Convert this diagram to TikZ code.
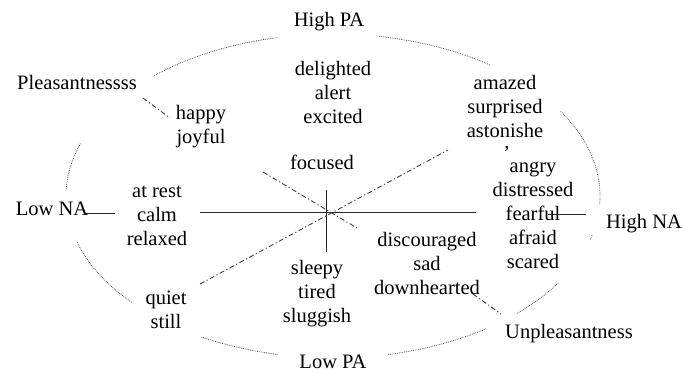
\documentclass[tikz,border=0pt]{standalone}
\usepackage{fontspec}
\setmainfont{Liberation Serif}
\usetikzlibrary{calc}

\begin{document}
\begin{tikzpicture} [x=1pt, y=-1pt,
  word/.style={align=center, inner sep=0pt, font=\fontsize{20.5}{24}\selectfont},
  stray/.style={inner sep=0pt, font=\fontsize{20.5}{24}\selectfont},
  axis/.style={black!85, line width=0.9pt},
  dashdot/.style={black!75, line width=0.9pt, dash pattern=on 5pt off 2.5pt on 1.2pt off 2.5pt},
  ring/.style={black!65, line width=0.8pt, densely dotted}]
\useasboundingbox (0,0) rectangle (683,374);

% dotted ellipse pieces
\foreach \a/\b in {-132/-102, -80/-54, -31.5/3, 14/15.5, 32.5/46.5, 55/78, 102/119.5, 139/163.5, 182/199}
  \draw[ring, samples=25, domain=\a:\b, variable=\t] plot ({333+267*cos(\t)}, {196+162*sin(\t)});

\node[word] (highpa) at (329, 22) {High PA};
\node[word] (lowpa) at (333, 362) {Low PA};
\node[word] (lowna) at (52, 209) {Low NA};
\node[word] (highna) at (644, 224) {High NA};
\node[word] (pleas) at (77, 82) {Pleasantnessss};
\node[word] (unpleas) at (569, 334) {Unpleasantness};

\node[word] (delight) at (333, 92) {delighted\\alert\\excited};
\node[word] (happy) at (201, 127) {happy\\joyful};
\node[word] (focused) at (322, 162) {focused};
\node[word] (amazed) at (505, 106) {amazed\\surprised\\astonishe};
\node[stray] (comma) at (507, 149) {,};
\node[word] (angry) at (533, 215) {angry\\distressed\\fearful\\afraid\\scared};
\node[word] (atrest) at (157, 216) {at rest\\calm\\relaxed};
\node[word] (quiet) at (166, 310) {quiet\\still};
\node[word] (sleepy) at (317, 294) {sleepy\\tired\\sluggish};
\node[word] (discour) at (427, 263) {discouraged\\sad\\downhearted};

% axes
\coordinate (hl) at (200, 212);
\coordinate (hr) at (476, 212);
\coordinate (vt) at (326, 190);
\coordinate (vb) at (326, 252);
\coordinate (na1) at (84, 213);
\coordinate (na2) at (115, 213);
\coordinate (fe1) at (548, 214);
\coordinate (fe2) at (586, 214);
\draw[axis] (hl) -- (hr);
\draw[axis] (vt) -- (vb);
\draw[axis] (na1) -- (na2);
\draw[axis] (fe1) -- (fe2);

% diagonals
\coordinate (p1) at (143, 98);
\coordinate (p2) at (170, 118);
\coordinate (p3) at (263, 172);
\coordinate (p4) at (357, 228);
\coordinate (u1) at (473, 294);
\coordinate (u2) at (501, 314);
\coordinate (q1) at (200, 284);
\coordinate (q2) at (448, 150);
\draw[dashdot] (p1) -- (p2);
\draw[dashdot] (p3) -- (p4);
\draw[dashdot] (u1) -- (u2);
\draw[dashdot] (q1) -- (q2);

\end{tikzpicture}
\end{document}
